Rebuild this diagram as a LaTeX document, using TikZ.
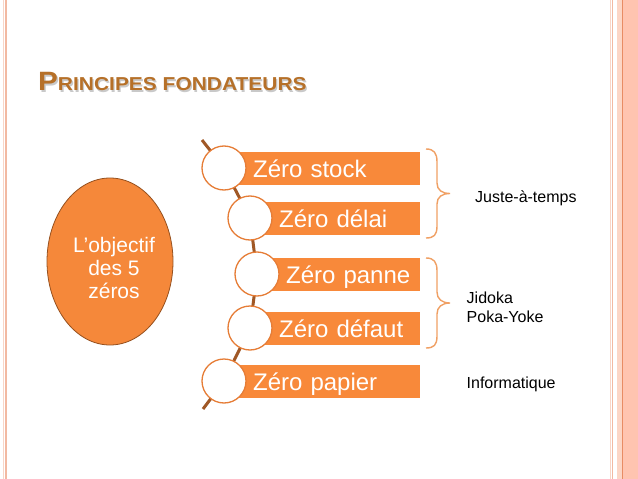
\documentclass[tikz,border=0pt]{standalone}
\usepackage{fontspec}
\setmainfont{Liberation Sans}
\usepackage{graphicx}
\usetikzlibrary{shapes.geometric}
\definecolor{barorange}{RGB}{248,137,58}
\definecolor{ellorange}{RGB}{245,136,58}
\definecolor{ellborder}{RGB}{150,80,30}
\definecolor{ringorange}{RGB}{230,125,55}
\definecolor{spinebrown}{RGB}{160,88,38}
\definecolor{bracecol}{RGB}{240,160,100}
\definecolor{titlecol}{RGB}{182,112,40}
\definecolor{framefill}{RGB}{255,196,176}
\definecolor{frameband}{RGB}{252,214,198}
\definecolor{framedark}{RGB}{232,140,100}
\definecolor{framelight}{RGB}{248,214,200}
\definecolor{framemid}{RGB}{242,185,162}
\begin{document}
\begin{tikzpicture}[x=1pt,y=-1pt,
  bar/.style={fill=barorange, draw=none, minimum height=33pt, inner sep=0pt,
    anchor=west, text=white, font=\fontsize{24}{24}\selectfont,
    text height=19pt, text depth=0pt, align=left, text width=#1},
  ring/.style={circle, draw=ringorange, line width=1.3pt, fill=white,
    minimum size=44pt, inner sep=0pt},
  spine/.style={draw=spinebrown, line width=3pt},
  bracepath/.style={draw=bracecol, line width=1.4pt},
  sidelabel/.style={inner sep=0pt, anchor=west, font=\fontsize{16}{19}\selectfont, align=left},
  titletext/.style={anchor=base west, inner sep=0pt, font=\bfseries}
]
\useasboundingbox (0,0) rectangle (638,479);
% frame
\fill[white] (0,0) rectangle (638,479);
\draw[framelight, line width=1pt] (3.5,0) -- (3.5,479);
\draw[framemid, line width=1.5pt] (6,0) -- (6,479);
\draw[framelight, line width=1pt] (610.5,0) -- (610.5,479);
\draw[framemid, line width=1.5pt] (612.5,0) -- (612.5,479);
\fill[frameband] (617,0) rectangle (622,479);
\fill[framefill] (623,0) rectangle (638,479);
\draw[framedark, line width=1pt] (622.5,0) -- (622.5,479);

% title
\node[titletext, text=black!35, opacity=0.6] (titleshadow) at (39.3,92) {\scalebox{1.12}[1]{\fontsize{26.5}{28}\selectfont P\fontsize{18.7}{20}\selectfont RINCIPES FONDATEURS}};
\node[titletext, text=titlecol] (title) at (38,90.7) {\scalebox{1.12}[1]{\fontsize{26.5}{28}\selectfont P\fontsize{18.7}{20}\selectfont RINCIPES FONDATEURS}};

% goal ellipse
\node[ellipse, fill=ellorange, draw=ellborder, line width=0.8pt,
  minimum width=126pt, minimum height=167pt, inner sep=0pt] (goal) at (110,261.5) {};
\node[text=white, align=center, font=\fontsize{21}{23}\selectfont, inner sep=0pt] (goaltxt) at (114,268) {L’objectif\\des 5\\zéros};

% spine end points
\coordinate (spinetop) at (202,140);
\coordinate (spinebot) at (203,409);
\coordinate (p1) at (224,168);
\coordinate (p2) at (250,218);
\coordinate (p3) at (257,274);
\coordinate (p4) at (250,328);
\coordinate (p5) at (224,381);
\draw[spine] (spinetop) -- (p1) -- (p2) -- (p3) -- (p4) -- (p5) -- (spinebot);

% bars
\node[bar=196pt] (b1) at (p1) {\hspace*{29pt}Zéro stock};
\node[bar=170pt] (b2) at (p2) {\hspace*{29pt}Zéro délai};
\node[bar=163pt] (b3) at (p3) {\hspace*{29pt}Zéro panne};
\node[bar=170pt] (b4) at (p4) {\hspace*{29pt}Zéro défaut};
\node[bar=196pt] (b5) at (p5) {\hspace*{29pt}Zéro papier};

% rings
\node[ring] (c1) at (p1) {};
\node[ring] (c2) at (p2) {};
\node[ring] (c3) at (p3) {};
\node[ring] (c4) at (p4) {};
\node[ring] (c5) at (p5) {};

% braces
\draw[bracepath] (426,149) .. controls (434,149) and (437,153) .. (437,162) -- (437,183)
  .. controls (437,190) and (442,193.5) .. (450,193.5)
  .. controls (442,193.5) and (437,197) .. (437,204) -- (437,226)
  .. controls (437,235) and (434,238) .. (426,238);
\draw[bracepath] (426,258) .. controls (434,258) and (437,262) .. (437,271) -- (437,292)
  .. controls (437,299) and (442,303) .. (450,303)
  .. controls (442,303) and (437,307) .. (437,314) -- (437,336)
  .. controls (437,345) and (434,348) .. (426,348);

% side labels
\node[sidelabel] (jat) at (475,198) {Juste-à-temps};
\node[sidelabel] (jidoka) at (466.5,307) {Jidoka\\Poka-Yoke};
\node[sidelabel] (info) at (466.5,384) {Informatique};
\end{tikzpicture}
\end{document}
